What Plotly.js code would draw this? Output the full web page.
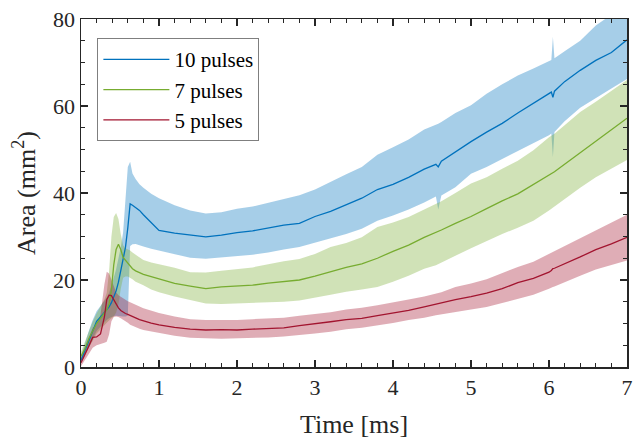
<!DOCTYPE html>
<html>
<head>
<meta charset="utf-8">
<script src="https://cdn.plot.ly/plotly-3.0.1.min.js"></script>
<style>html,body{margin:0;padding:0;background:#fff;}#chart{width:633px;height:442px;}</style>
</head>
<body>
<div id="chart"></div>
<script>
// Time [ms]
const time = [0,0.05,0.1,0.15,0.2,0.25,0.3,0.33,0.36,0.39,0.42,0.45,0.48,0.51,0.54,0.57,0.6,0.63,0.66,0.7,0.75,0.8,0.9,1.0,
  1.2,1.4,1.6,1.8,2.0,2.2,2.4,2.6,2.8,3.0,3.2,3.4,3.6,3.8,4.0,4.2,4.4,4.55,4.58,4.62,4.8,5.0,5.2,5.4,5.6,5.8,6.0,6.03,6.05,6.07,6.2,6.4,6.6,6.8,7.0];

// 10 pulses
const mean10 = [1.5,3.8,6.2,8.5,10.5,11.5,12.5,13.3,13.8,14.8,16,17.5,19.5,22,24.6,27.5,32,37.5,37.2,36.6,36,35,33.2,31.4,
  30.8,30.3,29.9,30.3,30.9,31.3,31.9,32.6,33.0,34.6,35.8,37.3,38.8,40.8,42.0,43.6,45.5,46.6,46.0,47.3,49.5,51.8,54.0,56.0,58.4,60.6,62.8,63.2,62.0,63.4,65.6,68.2,70.5,72.3,75.2];
const upper10 = [2.5,5.5,8.3,10.8,12.8,14,15.2,16,17,18.5,20.5,22.5,25,27.5,31,38,46,47.2,44.5,43.2,42,41.2,39.8,38.8,
  37.2,36.0,35.3,35.6,36.4,36.9,37.8,38.6,39.5,40.8,42.6,44.3,46.0,48.8,50.5,52.3,54.6,55.6,55.9,56.3,58.4,60.2,62.8,65.0,67.0,68.6,70.3,70.6,75.9,71.0,72.6,75.0,78.5,81,83];
const lower10 = [0.8,2.5,4.5,6.5,8.3,9.3,10.2,10.8,11.2,11.5,11.7,11.8,11.8,11.7,11.6,11.6,11.8,27.8,28.2,28.3,28.0,27.7,27.2,26.7,
  25.9,25.1,24.9,25.2,25.5,25.8,26.3,27.0,27.6,28.6,29.6,30.6,31.8,33.6,34.8,36.2,37.8,39.2,36.2,39.4,41.3,44.4,46.0,47.8,49.7,51.5,53.3,53.7,48.3,54.0,56.5,59.6,61.8,64.0,66.2];

// 7 pulses
const mean7 = [2.5,4.2,6.5,8.2,10,11.2,12.5,13.2,14.5,17.7,23.5,27,28.2,27,25.2,24.5,23.8,23.2,22.6,22.1,21.7,21.3,20.8,20.3,
  19.2,18.6,18.0,18.4,18.6,18.8,19.3,19.7,20.0,20.9,21.9,22.9,23.7,25.0,26.6,28.0,29.8,30.9,31.2,31.5,33.0,34.6,36.4,38.2,39.8,42.0,44.3,44.5,44.7,44.9,46.6,49.2,51.8,54.4,57.2];
const upper7 = [3.5,5.8,8.5,10.4,12.3,13.8,15.5,17,22,30,34.5,35.4,34,30.5,28,27.3,27,26.8,26.3,25.8,25.2,24.6,24,23.6,
  22.8,21.8,21.7,22.1,22.5,22.9,23.6,24.3,24.8,26.0,27.6,28.5,29.8,32.2,33.2,34.5,36.2,37.4,37.8,38.1,40.0,42.2,43.6,45.6,47.4,49.8,52.8,53.1,53.3,53.6,55.6,58.6,61.0,63.6,66.0];
const lower7 = [1.5,2.8,4.5,6,7.7,8.7,9.6,10.2,10.8,11.2,11.6,12.5,14.5,18,20.5,20.8,20.8,20.6,20.2,19.6,19.2,18.8,17.8,17.2,
  16.2,15.4,14.6,14.5,14.6,14.8,14.9,15.0,15.3,16.0,16.6,17.3,17.8,18.4,19.6,21.0,22.6,23.4,23.6,23.9,25.6,27.3,29.0,30.6,32.0,33.6,36.0,36.3,36.6,36.8,38.6,41.2,43.6,45.6,47.6];

// 5 pulses
const mean5 = [1.0,2.8,4.8,6.8,6.9,7.6,11.5,15.5,16.5,16.4,15.4,14.4,13.6,13.0,12.6,12.3,12.1,11.9,11.6,11.3,10.9,10.6,10.1,9.7,
  9.1,8.7,8.5,8.6,8.5,8.7,8.8,9.0,9.5,9.9,10.4,10.9,11.2,11.8,12.4,13.0,13.8,14.5,14.6,14.8,15.5,16.2,17.0,18.0,19.4,20.4,21.8,22.2,22.6,22.7,23.7,25.3,27.0,28.3,29.8];
const upper5 = [2,4.5,6.8,9,9.7,12,19,21.9,21.5,20.2,18.5,17.2,16.5,16.1,15.7,15.4,15.1,14.9,14.6,14.3,13.9,13.5,12.9,12.4,
  11.6,11.0,10.8,10.8,10.8,11.0,11.1,11.3,11.8,12.2,12.6,13.2,13.6,14.2,14.8,15.5,16.2,16.9,17.0,17.2,18.4,19.2,20.2,21.6,23.0,24.2,26.0,26.3,26.5,26.7,27.8,29.6,31.4,33.2,35.0];
const lower5 = [0.2,1.5,3.0,4.4,5.0,5.3,5.6,5.8,7.5,10.5,11.5,11.6,11.5,11.2,10.9,10.6,10.2,9.7,9.4,9.1,8.8,8.5,8.1,7.8,
  7.2,6.7,6.6,6.5,6.6,6.7,6.8,7.0,7.3,7.7,8.1,8.7,9.0,9.5,10.1,10.8,11.3,11.9,12.0,12.1,12.7,13.2,13.8,14.7,15.7,16.6,18.0,18.2,18.4,18.5,19.4,21.0,22.4,23.4,24.5];

const seriesNames = ['10 pulses','7 pulses','5 pulses'];
const xTicks = [0,1,2,3,4,5,6,7];
const yTicks = [0,20,40,60,80];

const series = [
  {name: seriesNames[0], m: mean10, u: upper10, l: lower10, line: '#0072BD', fill: 'rgba(0,114,189,0.35)'},
  {name: seriesNames[1], m: mean7, u: upper7, l: lower7, line: '#77AC30', fill: 'rgba(119,172,48,0.35)'},
  {name: seriesNames[2], m: mean5, u: upper5, l: lower5, line: '#A2142F', fill: 'rgba(162,20,47,0.35)'}
];

const traces = [];
series.forEach(s => {
  traces.push({
    x: time.concat(time.slice().reverse()),
    y: s.u.concat(s.l.slice().reverse()),
    type: 'scatter', mode: 'lines', fill: 'toself',
    fillcolor: s.fill, line: {width: 0, color: s.fill},
    hoverinfo: 'skip', showlegend: false
  });
});
series.forEach(s => {
  traces.push({
    x: time, y: s.m, type: 'scatter', mode: 'lines', name: s.name,
    line: {color: s.line, width: 1.3}
  });
});

const FAM = 'Liberation Serif';
const TXT = '#262626';
const layout = {
  width: 633, height: 442,
  margin: {l: 81, r: 6, t: 19, b: 75},
  paper_bgcolor: '#fff', plot_bgcolor: '#fff',
  font: {family: FAM, size: 20, color: TXT},
  showlegend: true,
  legend: {
    x: 0.03, y: 0.945, xanchor: 'left', yanchor: 'top',
    bgcolor: '#fff', bordercolor: '#7f7f7f', borderwidth: 1,
    font: {family: FAM, size: 21, color: '#000'},
    itemwidth: 66,
    tracegroupgap: 0
  },
  xaxis: {
    range: [0, 7], tickvals: xTicks, ticktext: xTicks.map(String),
    ticks: 'inside', ticklen: 7, tickwidth: 1.2, tickcolor: TXT,
    minor: {dtick: 0.2, ticks: 'inside', ticklen: 4, tickwidth: 1, tickcolor: TXT},
    showline: true, linecolor: TXT, linewidth: 1.5, mirror: 'allticks',
    showgrid: false, zeroline: false,
    tickfont: {family: FAM, size: 22, color: TXT},
    title: {text: 'Time [ms]', font: {family: FAM, size: 26, color: TXT}, standoff: 16}
  },
  yaxis: {
    range: [0, 80], tickvals: yTicks, ticktext: yTicks.map(String),
    ticks: 'inside', ticklen: 7, tickwidth: 1.2, tickcolor: TXT,
    minor: {dtick: 5, ticks: 'inside', ticklen: 4, tickwidth: 1, tickcolor: TXT},
    showline: true, linecolor: TXT, linewidth: 1.5, mirror: 'allticks',
    showgrid: false, zeroline: false,
    tickfont: {family: FAM, size: 22, color: TXT},
    title: {text: 'Area (mm<sup>2</sup>)', font: {family: FAM, size: 26, color: TXT}, standoff: 10}
  }
};

Plotly.newPlot('chart', traces, layout, {displayModeBar: false, staticPlot: true});
</script>
</body>
</html>
